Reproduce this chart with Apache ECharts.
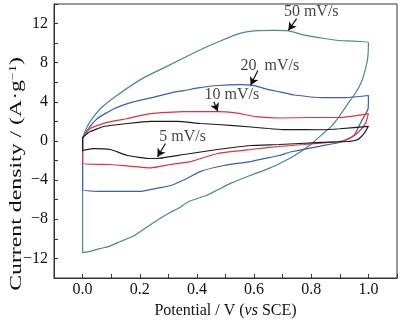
<!DOCTYPE html>
<html>
<head>
<meta charset="utf-8">
<style>
  html, body { margin: 0; padding: 0; background: #fff; }
  #chart { width: 410px; height: 325px; }
</style>
<script src="https://cdn.jsdelivr.net/npm/echarts@6/dist/echarts.min.js"></script>
</head>
<body>
<div id="chart"></div>
<script>
// Cyclic voltammograms: each loop = anodic sweep (0 → 1 V) then cathodic sweep (1 → 0 V)
const scanRates = ['50 mV/s', '20 mV/s', '10 mV/s', '5 mV/s'];
const lineColors = ['#478b8f', '#3a5eb2', '#e0323c', '#1c1c1c'];

const cv50 = [
  [0, 0.26], [0.01, 1.1], [0.027, 2.0], [0.062, 3.3], [0.12, 4.65], [0.21, 6.4], [0.3, 7.7],
  [0.41, 9.3], [0.48, 10.2], [0.55, 11.0], [0.6, 11.25], [0.67, 11.3], [0.72, 11.25],
  [0.78, 10.8], [0.84, 10.5], [0.9, 10.27], [1.0, 10.06],
  [0.998, 8.6], [0.99, 7.4], [0.975, 6.0], [0.955, 4.9], [0.93, 3.9], [0.9, 2.6], [0.87, 1.5],
  [0.845, 0.85], [0.8, -0.3], [0.752, -1.3], [0.69, -2.3], [0.635, -3.0], [0.588, -3.5],
  [0.52, -4.3], [0.472, -5.0], [0.43, -5.6], [0.37, -6.2], [0.34, -6.8], [0.3, -7.4],
  [0.245, -8.4], [0.185, -9.6], [0.13, -10.3], [0.09, -10.8], [0.06, -11.0], [0.03, -11.25],
  [0, -11.4], [0, 0.26]
];

const cv20 = [
  [0, 0.26], [0.016, 1.1], [0.052, 2.3], [0.11, 3.3], [0.178, 4.0], [0.238, 4.4], [0.32, 5.0],
  [0.354, 5.15], [0.41, 5.45], [0.472, 5.67], [0.55, 5.77], [0.6, 5.65], [0.65, 5.25],
  [0.693, 5.0], [0.74, 4.7], [0.84, 4.44], [0.92, 4.44], [1.0, 4.65],
  [0.999, 3.3], [0.975, 2.0], [0.95, 0.6], [0.905, -0.1], [0.835, -0.5], [0.73, -1.1],
  [0.687, -1.48], [0.635, -1.8], [0.588, -2.1], [0.494, -2.5], [0.413, -3.1], [0.367, -3.8],
  [0.308, -4.55], [0.238, -4.95], [0.2, -5.15], [0.1, -5.15], [0, -4.95], [0, 0.26]
];

const cv10 = [
  [0, 0.3], [0.027, 1.28], [0.086, 1.9], [0.157, 2.3], [0.238, 2.8], [0.354, 3.0], [0.472, 3.0],
  [0.53, 2.9], [0.605, 2.5], [0.693, 2.35], [0.8, 2.4], [0.9, 2.4], [1.0, 2.8],
  [0.99, 1.8], [0.968, 1.0], [0.94, 0.35], [0.915, 0.05], [0.893, -0.05], [0.775, -0.36],
  [0.687, -0.56], [0.588, -0.87], [0.472, -1.28], [0.413, -1.79], [0.378, -2.1], [0.308, -2.4],
  [0.238, -2.75], [0.097, -2.4], [0, -2.3], [0, 0.3]
];

const cv5 = [
  [0, 0.36], [0.027, 0.97], [0.074, 1.48], [0.157, 1.79], [0.238, 2.0], [0.33, 2.0], [0.413, 1.79],
  [0.529, 1.58], [0.648, 1.28], [0.7, 1.17], [0.834, 1.15], [0.9, 1.25], [1.0, 1.5],
  [0.985, 0.77], [0.963, 0.15], [0.928, -0.05], [0.834, -0.15], [0.687, -0.36], [0.588, -0.46],
  [0.472, -0.87], [0.354, -1.38], [0.262, -1.79], [0.238, -1.79], [0.157, -1.48], [0.097, -0.87],
  [0.037, -0.77], [0, -0.97], [0, 0.36]
];

const loops = [cv50, cv20, cv10, cv5];

// Annotation text anchors and arrows (tail → head), in data units
const labelPos = [[0.80, 13.2], [0.655, 7.7], [0.522, 4.75], [0.35, 0.46]];
const labelText = ['50 mV/s', '20  mV/s', '10 mV/s', '5 mV/s'];
const arrowTail = [[0.749, 12.5], [0.613, 7.2], [0.459, 4.0], [0.29, -0.26]];
const arrowHead = [[0.72, 11.3], [0.588, 5.7], [0.473, 3.05], [0.262, -1.62]];

const xTicks = { min: -0.1, max: 1.1, step: 0.1 };
const yTicks = { min: -14, max: 14, step: 2 };

const serif = '"Liberation Serif", "DejaVu Serif", serif';
const axisColor = '#333';
const textColor = '#111';

const chart = echarts.init(document.getElementById('chart'), null, { renderer: 'canvas' });

const series = loops.map((d, i) => ({
  name: scanRates[i],
  type: 'line',
  data: d,
  showSymbol: false,
  symbol: 'none',
  smooth: 0.15,
  lineStyle: { color: lineColors[i], width: 1.2 },
  z: 2 + i
}));

series.push({
  type: 'scatter',
  symbolSize: 0,
  data: labelPos.map((p, i) => ({ value: p, name: labelText[i] })),
  label: {
    show: true,
    position: 'inside',
    formatter: '{b}',
    fontFamily: serif,
    fontSize: 16,
    color: textColor
  },
  markLine: {
    silent: true,
    symbol: ['none', 'arrow'],
    symbolSize: [7, 8],
    lineStyle: { color: textColor, width: 1.2, type: 'solid' },
    label: { show: false },
    data: arrowTail.map((t, i) => [{ coord: t }, { coord: arrowHead[i] }])
  },
  z: 10
});

chart.setOption({
  animation: false,
  grid: {
    left: 54, right: 13, top: 4, bottom: 47,
    containLabel: false,
    outerBoundsMode: 'none',
    show: true, borderColor: axisColor, borderWidth: 1
  },
  // vertical axis title, set in a tall, narrow serif face
  graphic: [{
    type: 'text',
    x: 17,
    y: 174,
    rotation: Math.PI / 2,
    scaleX: 1.4,
    style: {
      text: 'Current density / (A·g{s|−1})',
      fontFamily: serif,
      fontSize: 17,
      fill: textColor,
      align: 'center',
      verticalAlign: 'middle',
      rich: { s: { fontFamily: serif, fontSize: 10, verticalAlign: 'top', padding: [0, 0, 8, 0], fill: textColor } }
    }
  }],
  xAxis: {
    type: 'value',
    min: xTicks.min, max: xTicks.max, interval: xTicks.step,
    name: 'Potential / V ({i|vs} SCE)',
    nameLocation: 'middle',
    nameGap: 21,
    nameTextStyle: {
      fontFamily: serif, fontSize: 16, color: textColor,
      rich: { i: { fontFamily: serif, fontSize: 16, fontStyle: 'italic', color: textColor } }
    },
    axisLine: { onZero: false, lineStyle: { color: axisColor, width: 1 } },
    axisTick: { inside: true, length: 4, lineStyle: { color: axisColor } },
    splitLine: { show: false },
    axisLabel: {
      margin: 4,
      fontFamily: serif, fontSize: 16, color: textColor,
      formatter: v => (Math.round(v * 10) % 2 === 0 ? v.toFixed(1) : '')
    }
  },
  yAxis: {
    type: 'value',
    min: yTicks.min, max: yTicks.max, interval: yTicks.step,
    axisLine: { onZero: false, lineStyle: { color: axisColor, width: 1 } },
    axisTick: { inside: true, length: 4, lineStyle: { color: axisColor } },
    splitLine: { show: false },
    axisLabel: {
      margin: 6,
      fontFamily: serif, fontSize: 16, color: textColor,
      formatter: v => (v % 4 === 0 ? String(v).replace('-', '\u2212') : '')
    }
  },
  series: series
});
</script>
</body>
</html>
